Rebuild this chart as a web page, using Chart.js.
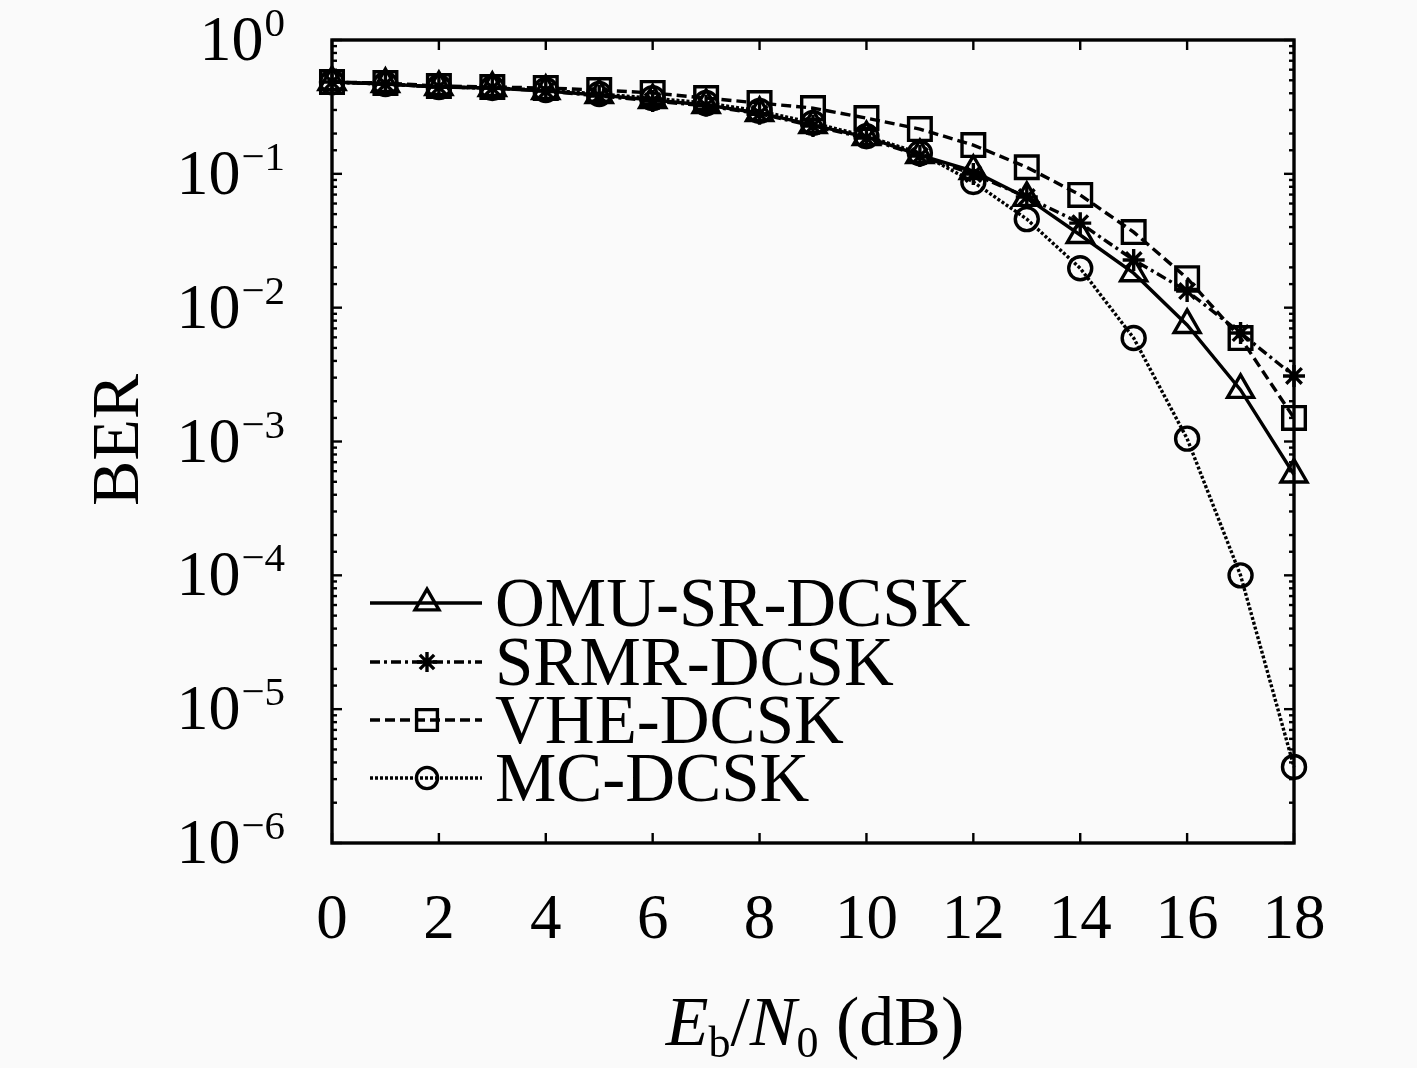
<!DOCTYPE html>
<html><head><meta charset="utf-8">
<script src="https://cdn.jsdelivr.net/npm/chart.js@4/dist/chart.umd.min.js"></script>
<style>html,body{margin:0;padding:0;background:#fafafa;}#wrap{width:1417px;height:1068px;position:relative;}</style>
</head><body><div id="wrap"><canvas id="c" width="1417" height="1068"></canvas></div>
<script>
// ---- data ----
const ebn0 = [0,1,2,3,4,5,6,7,8,9,10,11,12,13,14,15,16,17,18];
const omu  = [0.485,0.469,0.445,0.438,0.416,0.388,0.356,0.327,0.285,0.231,0.188,0.138,0.105,0.0661,0.0349,0.0181,0.00743,0.00243,0.000567];
const srmr = [0.485,0.469,0.445,0.438,0.416,0.382,0.350,0.322,0.281,0.228,0.185,0.136,0.0996,0.0671,0.0428,0.0227,0.0133,0.00646,0.00309];
const vhe  = [0.485,0.477,0.453,0.445,0.438,0.423,0.402,0.368,0.338,0.310,0.261,0.216,0.164,0.112,0.0695,0.0367,0.0166,0.00593,0.00150];
const mc   = [0.485,0.469,0.445,0.438,0.423,0.395,0.368,0.338,0.295,0.240,0.191,0.143,0.0869,0.0459,0.0197,0.00593,0.00105,0.0001,0.0000037];
const names = ['OMU-SR-DCSK','SRMR-DCSK','VHE-DCSK','MC-DCSK'];
const xTicks = [0,2,4,6,8,10,12,14,16,18];
const yTicks = [1,1e-1,1e-2,1e-3,1e-4,1e-5,1e-6];
const yTickExp = ['0','\u22121','\u22122','\u22123','\u22124','\u22125','\u22126'];

const FONT = '"Liberation Serif", "DejaVu Serif", serif';
const toPts = arr => arr.map((v,i)=>({x:ebn0[i], y:v}));

function ds(label, data, style, radius, dash){
  return {label, data:toPts(data), borderColor:'#000', backgroundColor:'rgba(0,0,0,0)',
    pointStyle:style, pointRadius:radius, pointHoverRadius:radius, pointBorderWidth:3.4,
    pointBorderColor:'#000', pointBackgroundColor:'rgba(0,0,0,0)', borderWidth:3.4,
    borderDash:dash, tension:0, clip:false, fill:false};
}
const datasets = [
  ds(names[0], omu, 'triangle', 15, []),
  ds(names[1], srmr, 'star', 11, [10,4,3,4]),
  ds(names[2], vhe, 'rect', 16, [10,5]),
  ds(names[3], mc, 'circle', 11.5, [3,2])
];

function line(ctx,x1,y1,x2,y2){ctx.beginPath();ctx.moveTo(x1,y1);ctx.lineTo(x2,y2);ctx.stroke();}

const decor = {
  id:'decor',
  afterDatasetsDraw(chart){
    const {ctx, chartArea:a, scales:{x,y}} = chart;
    ctx.save();
    ctx.strokeStyle='#000'; ctx.fillStyle='#000'; ctx.setLineDash([]);
    // frame
    ctx.lineWidth=3.4;
    ctx.strokeRect(a.left,a.top,a.right-a.left,a.bottom-a.top);
    // x ticks (inward, top and bottom)
    ctx.lineWidth=2.4;
    xTicks.forEach(v=>{const px=x.getPixelForValue(v);
      line(ctx,px,a.bottom,px,a.bottom-10); line(ctx,px,a.top,px,a.top+10);});
    // y ticks from the log scale's own ticks
    y.ticks.forEach(t=>{
      const py=y.getPixelForValue(t.value);
      const lg=Math.log10(t.value); const major=Math.abs(lg-Math.round(lg))<1e-9;
      const len=major?10:5;
      line(ctx,a.left,py,a.left+len,py); line(ctx,a.right,py,a.right-len,py);
    });
    // x tick labels
    ctx.font='63px '+FONT; ctx.textAlign='center'; ctx.textBaseline='alphabetic';
    xTicks.forEach(v=>ctx.fillText(String(v), x.getPixelForValue(v), 938));
    // y tick labels 10^n
    yTicks.forEach((v,i)=>{
      const py=y.getPixelForValue(v);
      ctx.font='41px '+FONT; ctx.textAlign='right';
      const sw=ctx.measureText(yTickExp[i]).width;
      ctx.fillText(yTickExp[i], 285, py-4);
      ctx.font='64px '+FONT;
      ctx.fillText('10', 285-sw-1, py+20);
    });
    // y title
    ctx.save(); ctx.translate(138,440); ctx.rotate(-Math.PI/2);
    ctx.font='68px '+FONT; ctx.textAlign='center'; ctx.textBaseline='alphabetic';
    ctx.fillText('BER',0,0); ctx.restore();
    // x title E_b/N_0 (dB)
    const parts=[['E','italic 70px',0],['b','44px',12],['/','70px',0],['N','italic 70px',0],['0','44px',12],[' (dB)','70px',0]];
    let tw=0; parts.forEach(p=>{ctx.font=p[1]+' '+FONT; p.w=ctx.measureText(p[0]).width; tw+=p.w;});
    let cx=815-tw/2; ctx.textAlign='left';
    parts.forEach(p=>{ctx.font=p[1]+' '+FONT; ctx.fillText(p[0],cx,1045+p[2]); cx+=p.w;});
    // legend
    const rows=[603,662,720,778];
    chart.data.datasets.forEach((d,i)=>{
      const yy=rows[i];
      ctx.strokeStyle='#000';
      ctx.lineWidth=d.borderWidth; ctx.setLineDash(d.borderDash);
      line(ctx,370,yy,482,yy);
      ctx.setLineDash([]);
      ctx.lineWidth=d.pointBorderWidth;
      ctx.fillStyle='rgba(0,0,0,0)';
      Chart.helpers.drawPoint(ctx,{pointStyle:d.pointStyle,radius:d.pointRadius*0.92,borderWidth:d.pointBorderWidth,rotation:0},427,yy);
      ctx.fillStyle='#000';
      ctx.font='69px '+FONT; ctx.textAlign='left';
      ctx.fillText(d.label,495,yy+23);
    });
    ctx.restore();
  }
};

new Chart(document.getElementById('c'),{
  type:'line',
  data:{datasets},
  options:{
    responsive:false, animation:false, devicePixelRatio:1,
    layout:{padding:{left:332,right:123,top:40,bottom:225}},
    plugins:{legend:{display:false},tooltip:{enabled:false}},
    scales:{
      x:{type:'linear',min:0,max:18,grid:{display:false},border:{display:false},ticks:{display:false},afterFit:s=>{s.height=0;}},
      y:{type:'logarithmic',min:1e-6,max:1,grid:{display:false},border:{display:false},ticks:{display:false},afterFit:s=>{s.width=0;}}
    }
  },
  plugins:[decor]
});
</script></body></html>
